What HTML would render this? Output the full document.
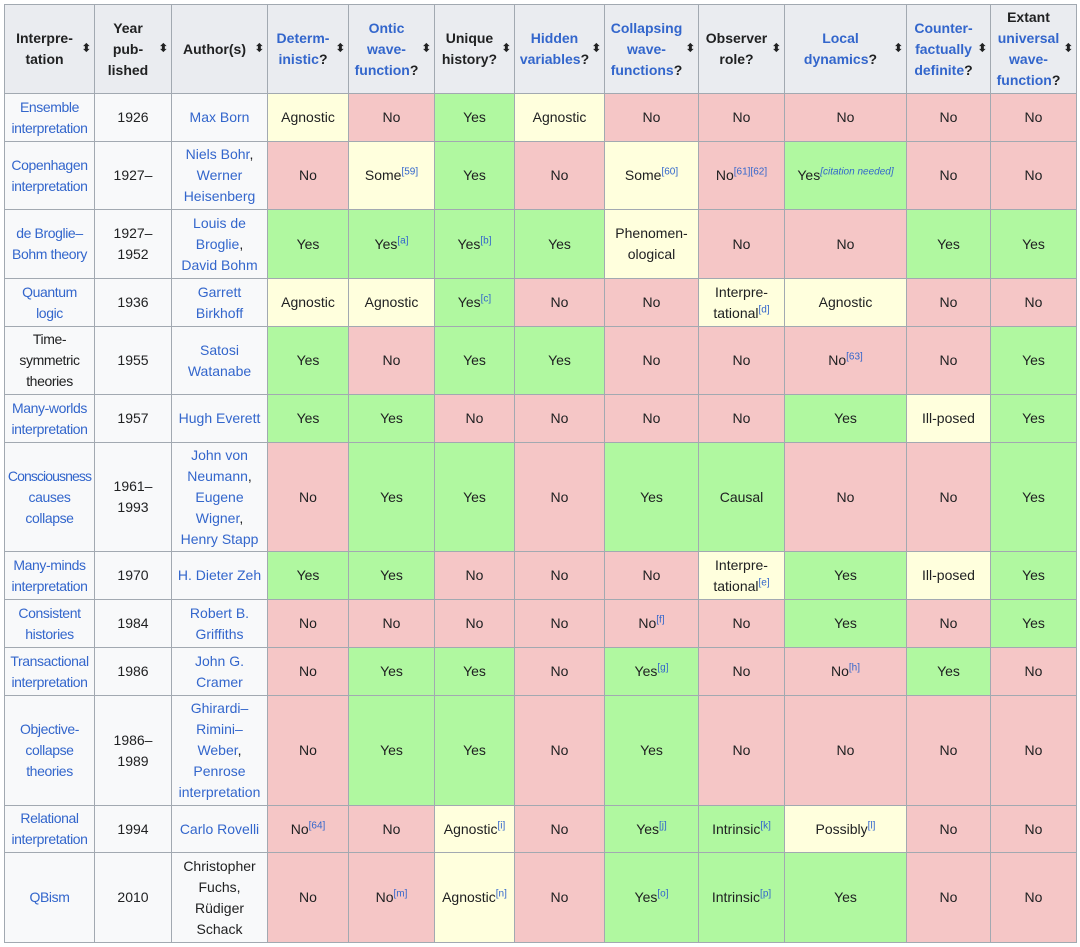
<!DOCTYPE html><html><head><meta charset="utf-8"><style>
body{margin:0;background:#fff;font-family:"Liberation Sans",sans-serif;}
table{position:absolute;left:4px;top:4px;width:1072px;border-collapse:collapse;table-layout:fixed;font-size:14px;line-height:21px;color:#202122}
td,th{border:1px solid #a2a9b1;text-align:center;padding:0 2px;vertical-align:middle;overflow:visible}
th{background:#eaecf0;font-weight:bold;position:relative;padding-right:12px}
th::after{content:"⬍";position:absolute;right:3px;top:50%;transform:translateY(-50%);font-size:11px;color:#202122}
td{background:#f8f9fa}
a{color:#3366cc;text-decoration:none}
.y{background:#b0f8a0}.n{background:#f5c6c6}.m{background:#ffffdd}
sup{font-size:10px;color:#3366cc;line-height:0}
.c1{letter-spacing:-0.4px;padding:0}
.t{letter-spacing:-0.9px}
</style></head><body>
<table>
<colgroup><col style="width:90px"><col style="width:77px"><col style="width:96px"><col style="width:81px"><col style="width:86px"><col style="width:80px"><col style="width:90px"><col style="width:94px"><col style="width:86px"><col style="width:122px"><col style="width:84px"><col style="width:86px"></colgroup>
<tr style="height:89px">
<th>Interpre-<br>tation</th>
<th>Year<br>pub-<br>lished</th>
<th>Author(s)</th>
<th><a>Determ-<br>inistic</a>?</th>
<th><a>Ontic<br>wave-<br>function</a>?</th>
<th>Unique<br>history?</th>
<th><a>Hidden<br>variables</a>?</th>
<th><a>Collapsing<br>wave-<br>functions</a>?</th>
<th>Observer<br>role?</th>
<th><a>Local<br>dynamics</a>?</th>
<th><a>Counter-<br>factually<br>definite</a>?</th>
<th>Extant<br><a>universal<br>wave-<br>function</a>?</th>
</tr>
<tr style="height:48px"><td class="c1"><a>Ensemble<br>interpretation</a></td><td>1926</td><td><a>Max Born</a></td><td class="m">Agnostic</td><td class="n">No</td><td class="y">Yes</td><td class="m">Agnostic</td><td class="n">No</td><td class="n">No</td><td class="n">No</td><td class="n">No</td><td class="n">No</td></tr>
<tr style="height:68px"><td class="c1"><a>Copenhagen<br>interpretation</a></td><td>1927–</td><td><a>Niels Bohr</a>,<br><a>Werner<br>Heisenberg</a></td><td class="n">No</td><td class="m">Some<sup>[59]</sup></td><td class="y">Yes</td><td class="n">No</td><td class="m">Some<sup>[60]</sup></td><td class="n">No<sup>[61][62]</sup></td><td class="y">Yes<sup><i>[citation needed]</i></sup></td><td class="n">No</td><td class="n">No</td></tr>
<tr style="height:69px"><td class="c1"><a>de Broglie–<br>Bohm theory</a></td><td>1927–<br>1952</td><td><a>Louis de<br>Broglie</a>,<br><a>David Bohm</a></td><td class="y">Yes</td><td class="y">Yes<sup>[a]</sup></td><td class="y">Yes<sup>[b]</sup></td><td class="y">Yes</td><td class="m">Phenomen-<br>ological</td><td class="n">No</td><td class="n">No</td><td class="y">Yes</td><td class="y">Yes</td></tr>
<tr style="height:48px"><td class="c1"><a>Quantum<br>logic</a></td><td>1936</td><td><a>Garrett<br>Birkhoff</a></td><td class="m">Agnostic</td><td class="m">Agnostic</td><td class="y">Yes<sup>[c]</sup></td><td class="n">No</td><td class="n">No</td><td class="m">Interpre-<br>tational<sup>[d]</sup></td><td class="m">Agnostic</td><td class="n">No</td><td class="n">No</td></tr>
<tr style="height:68px"><td class="c1">Time-<br>symmetric<br>theories</td><td>1955</td><td><a>Satosi<br>Watanabe</a></td><td class="y">Yes</td><td class="n">No</td><td class="y">Yes</td><td class="y">Yes</td><td class="n">No</td><td class="n">No</td><td class="n">No<sup>[63]</sup></td><td class="n">No</td><td class="y">Yes</td></tr>
<tr style="height:48px"><td class="c1"><a>Many-worlds<br>interpretation</a></td><td>1957</td><td><a>Hugh Everett</a></td><td class="y">Yes</td><td class="y">Yes</td><td class="n">No</td><td class="n">No</td><td class="n">No</td><td class="n">No</td><td class="y">Yes</td><td class="m">Ill-posed</td><td class="y">Yes</td></tr>
<tr style="height:109px"><td class="c1"><a><span class="t">Consciousness</span><br>causes<br>collapse</a></td><td>1961–<br>1993</td><td><a>John von<br>Neumann</a>,<br><a>Eugene<br>Wigner</a>,<br><a>Henry Stapp</a></td><td class="n">No</td><td class="y">Yes</td><td class="y">Yes</td><td class="n">No</td><td class="y">Yes</td><td class="y">Causal</td><td class="n">No</td><td class="n">No</td><td class="y">Yes</td></tr>
<tr style="height:48px"><td class="c1"><a>Many-minds<br>interpretation</a></td><td>1970</td><td><a>H. Dieter Zeh</a></td><td class="y">Yes</td><td class="y">Yes</td><td class="n">No</td><td class="n">No</td><td class="n">No</td><td class="m">Interpre-<br>tational<sup>[e]</sup></td><td class="y">Yes</td><td class="m">Ill-posed</td><td class="y">Yes</td></tr>
<tr style="height:48px"><td class="c1"><a>Consistent<br>histories</a></td><td>1984</td><td><a>Robert B.<br>Griffiths</a></td><td class="n">No</td><td class="n">No</td><td class="n">No</td><td class="n">No</td><td class="n">No<sup>[f]</sup></td><td class="n">No</td><td class="y">Yes</td><td class="n">No</td><td class="y">Yes</td></tr>
<tr style="height:48px"><td class="c1"><a>Transactional<br>interpretation</a></td><td>1986</td><td><a>John G.<br>Cramer</a></td><td class="n">No</td><td class="y">Yes</td><td class="y">Yes</td><td class="n">No</td><td class="y">Yes<sup>[g]</sup></td><td class="n">No</td><td class="n">No<sup>[h]</sup></td><td class="y">Yes</td><td class="n">No</td></tr>
<tr style="height:110px"><td class="c1"><a>Objective-<br>collapse<br>theories</a></td><td>1986–<br>1989</td><td><a>Ghirardi–<br>Rimini–<br>Weber</a>,<br><a>Penrose<br>interpretation</a></td><td class="n">No</td><td class="y">Yes</td><td class="y">Yes</td><td class="n">No</td><td class="y">Yes</td><td class="n">No</td><td class="n">No</td><td class="n">No</td><td class="n">No</td></tr>
<tr style="height:47px"><td class="c1"><a>Relational<br>interpretation</a></td><td>1994</td><td><a>Carlo Rovelli</a></td><td class="n">No<sup>[64]</sup></td><td class="n">No</td><td class="m">Agnostic<sup>[i]</sup></td><td class="n">No</td><td class="y">Yes<sup>[j]</sup></td><td class="y">Intrinsic<sup>[k]</sup></td><td class="m">Possibly<sup>[l]</sup></td><td class="n">No</td><td class="n">No</td></tr>
<tr style="height:90px"><td class="c1"><a>QBism</a></td><td>2010</td><td>Christopher<br>Fuchs,<br>Rüdiger<br>Schack</td><td class="n">No</td><td class="n">No<sup>[m]</sup></td><td class="m">Agnostic<sup>[n]</sup></td><td class="n">No</td><td class="y">Yes<sup>[o]</sup></td><td class="y">Intrinsic<sup>[p]</sup></td><td class="y">Yes</td><td class="n">No</td><td class="n">No</td></tr>
</table></body></html>
